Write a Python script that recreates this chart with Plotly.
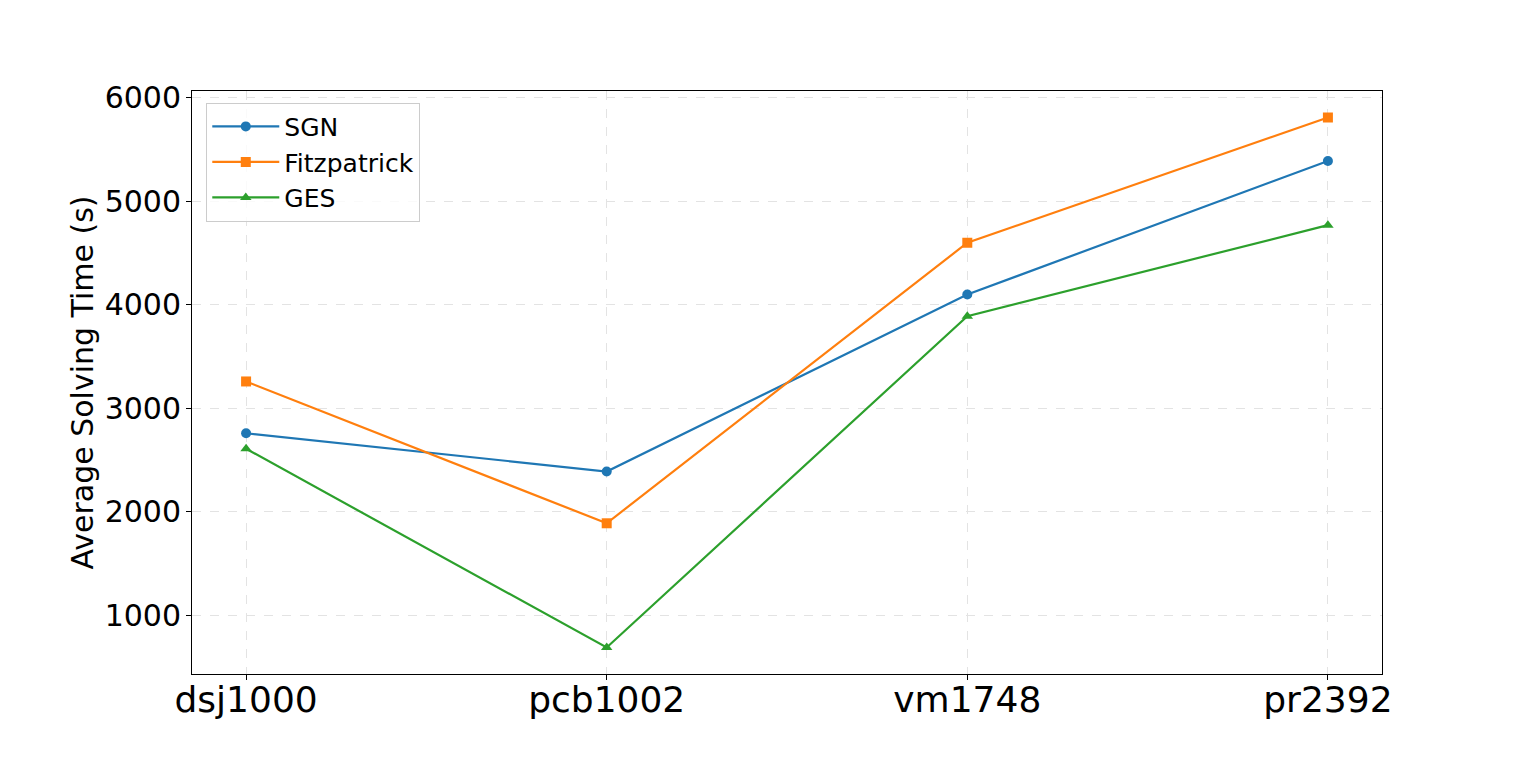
import plotly.graph_objects as go

categories = ["dsj1000", "pcb1002", "vm1748", "pr2392"]
sgn = [2760, 2390, 4100, 5390]
fitzpatrick = [3260, 1890, 4600, 5810]
ges = [2610, 690, 3890, 4770]
y_ticks = [1000, 2000, 3000, 4000, 5000, 6000]

series = [
    ("SGN", sgn, "#1f77b4", "circle"),
    ("Fitzpatrick", fitzpatrick, "#ff7f0e", "square"),
    ("GES", ges, "#2ca02c", "triangle-up"),
]

fig = go.Figure()
for name, vals, color, sym in series:
    fig.add_trace(go.Scatter(
        x=categories, y=vals, name=name, mode="lines+markers",
        line=dict(color=color, width=2.2),
        marker=dict(color=color, symbol=sym, size=10),
    ))

axis_common = dict(
    showline=True, linecolor="black", linewidth=1, mirror=True,
    ticks="outside", ticklen=5, tickcolor="black", tickwidth=1,
    showgrid=True, gridcolor="#e3e3e3", griddash="dash", gridwidth=1,
    zeroline=False,
)

fig.update_layout(
    width=1536, height=757,
    paper_bgcolor="white", plot_bgcolor="white",
    margin=dict(l=192, r=154, t=91, b=83, autoexpand=False),
    font=dict(family="DejaVu Sans", color="black"),
    xaxis=dict(
        type="category", range=[-0.15, 3.15],
        tickfont=dict(size=36), ticklabelstandoff=-11, **axis_common,
    ),
    yaxis=dict(
        range=[434, 6066], tickvals=y_ticks,
        tickfont=dict(size=30), ticklabelstandoff=-1,
        title=dict(text="Average Solving Time (s)", font=dict(size=30), standoff=2),
        **axis_common,
    ),
    showlegend=True,
    legend=dict(
        x=0.012, y=0.98, xanchor="left", yanchor="top",
        bgcolor="rgba(255,255,255,0.8)", bordercolor="#cccccc", borderwidth=1,
        font=dict(size=25),
        itemwidth=67,
    ),
)

fig.write_html("out.html")
